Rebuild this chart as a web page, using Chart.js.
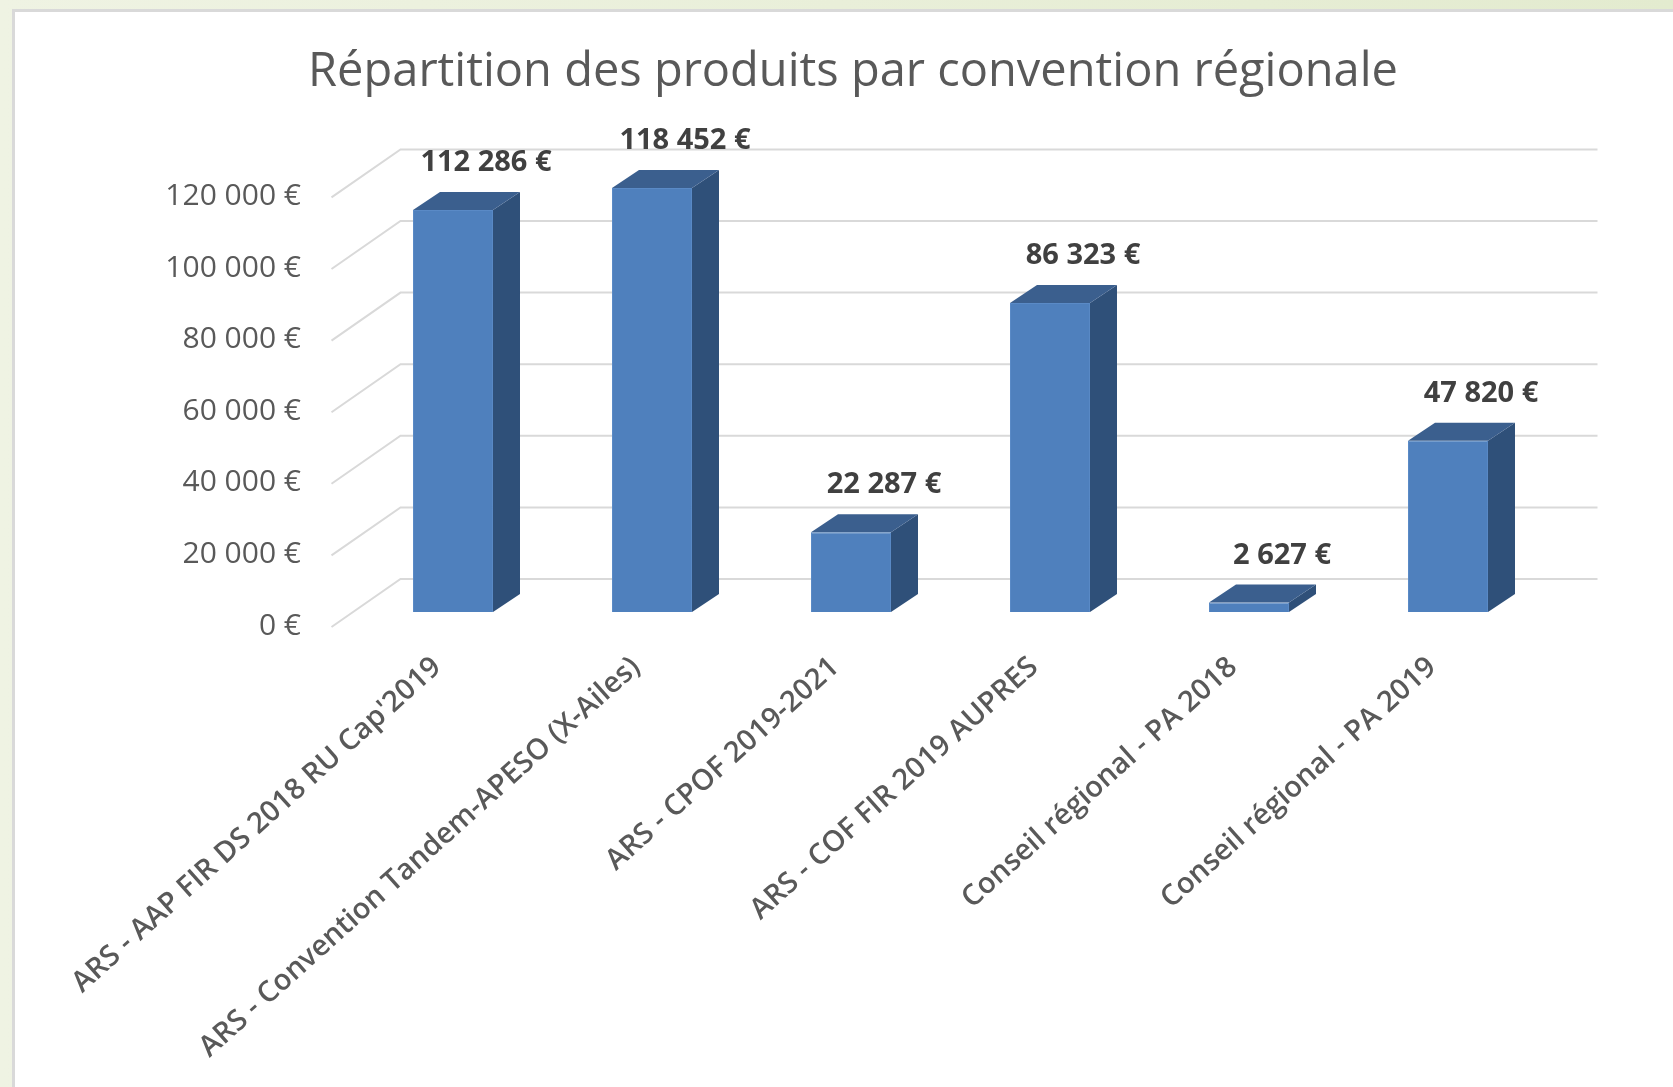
<!DOCTYPE html>
<html lang="fr">
<head>
  <meta charset="UTF-8" />
  <title>Répartition des produits par convention régionale</title>
  <script src="https://cdn.jsdelivr.net/npm/chart.js"></script>
  <style>
    html, body {
      margin: 0;
      padding: 0;
    }
    body {
      width: 1673px;
      height: 1087px;
      overflow: hidden;
      position: relative;
      background: linear-gradient(to right, #eff3e3, #e3ebcf);
      font-family: 'Open Sans', sans-serif;
    }
    #panel {
      position: absolute;
      left: 12px;
      top: 9px;
      right: 0;
      bottom: 0;
      background: #fff;
      border-left: 3px solid #d9d9d9;
      border-top: 3px solid #d9d9d9;
    }
    #wrap {
      position: absolute;
      left: 0;
      top: 0;
      width: 1673px;
      height: 1087px;
    }
  </style>
</head>
<body>

<div id="panel"></div>
<div id="wrap"><canvas id="chartCanvas"></canvas></div>

<script>
  const chartTitle = 'Répartition des produits par convention régionale';

  const categories = [
    'ARS - AAP FIR DS 2018 RU Cap\'2019',
    'ARS - Convention Tandem-APESO (X-Ailes)',
    'ARS - CPOF 2019-2021',
    'ARS - COF FIR 2019 AUPRES',
    'Conseil régional - PA 2018',
    'Conseil régional - PA 2019'
  ];

  const amounts = [112286, 118452, 22287, 86323, 2627, 47820];

  const yTicks = [0, 20000, 40000, 60000, 80000, 100000, 120000];

  // depth of the fake 3D look
  const DEPTH_X = 27, DEPTH_Y = 18;
  const WALL_X = 47, WALL_Y = 33;
  const FLOOR_X = -22, FLOOR_Y = 15;

  function euro(v) {
    return String(Math.round(v)).replace(/\B(?=(\d{3})+(?!\d))/g, ' ') + ' €';
  }

  // back wall gridlines + side diagonals
  const wallPlugin = {
    id: 'wall',
    beforeDatasetsDraw(chart) {
      const { ctx, chartArea } = chart;
      const y = chart.scales.y;
      ctx.save();
      ctx.strokeStyle = '#d9d9d9';
      ctx.lineWidth = 2;
      y.ticks.forEach(t => {
        const py = y.getPixelForValue(t.value);
        ctx.beginPath();
        ctx.moveTo(chartArea.left + FLOOR_X, py + FLOOR_Y);
        ctx.lineTo(chartArea.left + WALL_X, py - WALL_Y);
        ctx.lineTo(chartArea.right + WALL_X + 3, py - WALL_Y);
        ctx.stroke();
      });
      ctx.restore();
    }
  };

  // side and top faces, then value labels
  const boxPlugin = {
    id: 'box3d',
    afterDatasetsDraw(chart) {
      const { ctx } = chart;
      const meta = chart.getDatasetMeta(0);
      ctx.save();
      meta.data.forEach((bar, i) => {
        const half = bar.width / 2;
        const l = bar.x - half, r = bar.x + half;
        const top = bar.y, bottom = bar.base;

        ctx.fillStyle = '#2f5079';
        ctx.beginPath();
        ctx.moveTo(r, top);
        ctx.lineTo(r + DEPTH_X, top - DEPTH_Y);
        ctx.lineTo(r + DEPTH_X, bottom - DEPTH_Y);
        ctx.lineTo(r, bottom);
        ctx.closePath();
        ctx.fill();

        ctx.fillStyle = '#3b5f8e';
        ctx.beginPath();
        ctx.moveTo(l, top);
        ctx.lineTo(l + DEPTH_X, top - DEPTH_Y);
        ctx.lineTo(r + DEPTH_X, top - DEPTH_Y);
        ctx.lineTo(r, top);
        ctx.closePath();
        ctx.fill();

        ctx.fillStyle = '#404040';
        ctx.font = 'bold 29px "Open Sans"';
        ctx.textAlign = 'center';
        ctx.textBaseline = 'middle';
        ctx.fillText(euro(amounts[i]), bar.x + 33, top - 47);
      });
      ctx.restore();
    }
  };

  const ctx = document.getElementById('chartCanvas').getContext('2d');

  new Chart(ctx, {
    type: 'bar',
    data: {
      labels: categories,
      datasets: [{
        data: amounts,
        backgroundColor: '#4f80bd',
        borderColor: '#5a8ac6',
        borderWidth: 1,
        barPercentage: 0.402,
        categoryPercentage: 1
      }]
    },
    options: {
      responsive: true,
      maintainAspectRatio: false,
      animation: false,
      layout: {
        padding: { left: 33, right: 0, top: 0, bottom: 0 }
      },
      scales: {
        x: {
          grid: { display: false, drawTicks: false },
          border: { display: false },
          ticks: {
            color: '#595959',
            font: { family: 'Open Sans', size: 29, weight: '600' },
            minRotation: 42,
            maxRotation: 42,
            padding: 38,
            labelOffset: -16,
            autoSkip: false
          },
          afterFit(scale) {
            scale.height = 475;
          }
        },
        y: {
          min: 0,
          max: 120000,
          grid: { display: false, drawTicks: false },
          border: { display: false },
          afterBuildTicks(scale) {
            scale.ticks = yTicks.map(v => ({ value: v }));
          },
          ticks: {
            color: '#595959',
            font: { family: 'Open Sans', size: 30 },
            padding: 52.5,
            labelOffset: 14,
            callback: v => euro(v)
          },
          afterFit(scale) {
            scale.width = 320.5;
          }
        },
        // empty right margin so the title stays centred on the page
        yRight: {
          position: 'right',
          display: true,
          grid: { display: false, drawTicks: false },
          border: { display: false },
          ticks: { display: false },
          afterFit(scale) {
            scale.width = 125.5;
          }
        }
      },
      plugins: {
        legend: { display: false },
        tooltip: { enabled: false },
        title: {
          display: true,
          text: chartTitle,
          color: '#595959',
          font: { family: 'Open Sans', size: 47, weight: 'normal', lineHeight: 1.2 },
          padding: { top: 44, bottom: 82 }
        }
      }
    },
    plugins: [wallPlugin, boxPlugin]
  });
</script>

</body>
</html>
